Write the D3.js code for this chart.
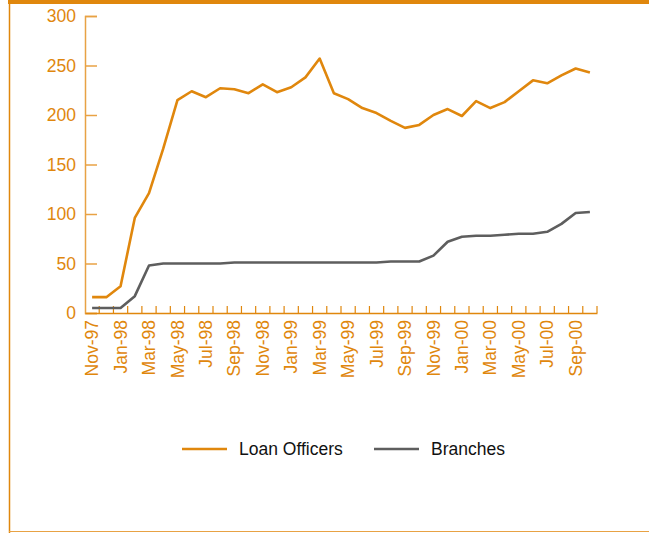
<!DOCTYPE html>
<html>
<head>
<meta charset="utf-8">
<script src="https://cdn.jsdelivr.net/npm/d3@7"></script>
<style>
	body { margin: 0; background: #fff; }
	text { font-family: "Liberation Sans", Arial, sans-serif; }
</style>
</head>
<body>
<div id="chart-area"></div>
<script>
// months shown on the x axis (every other one is labelled)
var months = ["Nov-97","Dec-97","Jan-98","Feb-98","Mar-98","Apr-98","May-98","Jun-98",
	"Jul-98","Aug-98","Sep-98","Oct-98","Nov-98","Dec-98","Jan-99","Feb-99","Mar-99",
	"Apr-99","May-99","Jun-99","Jul-99","Aug-99","Sep-99","Oct-99","Nov-99","Dec-99",
	"Jan-00","Feb-00","Mar-00","Apr-00","May-00","Jun-00","Jul-00","Aug-00","Sep-00","Oct-00"];

var loanOfficers = [16,16,27,96,121,166,215,224,218,227,226,222,231,223,228,238,257,
	222,216,207,202,194,187,190,200,206,199,214,207,213,224,235,232,240,247,243];

var branches = [5,5,5,17,48,50,50,50,50,50,51,51,51,51,51,51,51,51,51,51,51,52,52,52,
	58,72,77,78,78,79,80,80,82,90,101,102];

var yTicks = [0,50,100,150,200,250,300];

var seriesNames = ["Loan Officers","Branches"];

var orange = "#e0870d",
	axisOrange = "#e8a244",
	grey = "#5e5e5e";

var width = 649, height = 533;

var svg = d3.select("#chart-area")
	.append("svg")
		.attr("width", width)
		.attr("height", height);

// frame
svg.append("rect")
	.attr("x", 8).attr("y", 0)
	.attr("width", width - 8).attr("height", 4)
	.attr("fill", orange);
svg.append("line")
	.attr("x1", 9.5).attr("x2", 9.5)
	.attr("y1", 0).attr("y2", height)
	.attr("stroke", orange).attr("stroke-width", 1.5);
svg.append("line")
	.attr("x1", 9).attr("x2", width)
	.attr("y1", 531.5).attr("y2", 531.5)
	.attr("stroke", axisOrange).attr("stroke-width", 1.2);

//Scales
var x = d3.scaleBand()
	.domain(months)
	.range([85, 597])
	.padding(0);

var y = d3.scaleLinear()
	.domain([0, 300])
	.range([313, 16]);

function cx(d, i){ return x(months[i]) + x.bandwidth() / 2; }

//y axis
var yAxisCall = d3.axisLeft(y)
	.tickValues(yTicks)
	.tickSize(-12)
	.tickPadding(9);

var yAxis = svg.append("g")
	.attr("transform", "translate(85,0)")
	.call(yAxisCall);
yAxis.select(".domain").attr("stroke", axisOrange).attr("stroke-width", 1.5);
yAxis.selectAll(".tick line").attr("stroke", axisOrange).attr("stroke-width", 1.5);
yAxis.selectAll("text")
	.attr("fill", orange)
	.attr("font-size", "17.5px")
	.attr("font-family", null);

//x axis
var xAxisCall = d3.axisBottom(x)
	.tickValues(months.filter(function(d, i){ return i % 2 == 0; }))
	.tickSize(0)
	.tickSizeOuter(0);

var xAxis = svg.append("g")
	.attr("transform", "translate(0,313)")
	.call(xAxisCall);
xAxis.select(".domain").attr("stroke", orange).attr("stroke-width", 1.5);
xAxis.selectAll("text")
	.attr("fill", orange)
	.attr("font-size", "17.5px")
	.attr("font-family", null)
	.attr("y", 0)
	.attr("x", -7)
	.attr("dy", "0.35em")
	.attr("transform", "rotate(-90)")
	.style("text-anchor", "end");

// tick marks between months
xAxis.selectAll(".month-tick")
	.data(months)
	.enter()
	.append("line")
		.attr("class", "month-tick")
		.attr("x1", function(d){ return x(d) + x.bandwidth(); })
		.attr("x2", function(d){ return x(d) + x.bandwidth(); })
		.attr("y1", 0)
		.attr("y2", -7)
		.attr("stroke", orange)
		.attr("stroke-width", 1.2);

//lines
var line = d3.line()
	.x(cx)
	.y(function(d){ return y(d); });

svg.append("path")
	.datum(branches)
	.attr("fill", "none")
	.attr("stroke", grey)
	.attr("stroke-width", 2.6)
	.attr("stroke-linejoin", "round")
	.attr("d", line);

svg.append("path")
	.datum(loanOfficers)
	.attr("fill", "none")
	.attr("stroke", orange)
	.attr("stroke-width", 2.6)
	.attr("stroke-linejoin", "round")
	.attr("d", line);

//legend
var legendColors = [orange, grey];
var legendX = [182, 374];

seriesNames.forEach(function(name, i){
	var row = svg.append("g")
		.attr("transform", "translate(" + legendX[i] + ",449)");
	row.append("line")
		.attr("x1", 0).attr("x2", 45)
		.attr("stroke", legendColors[i])
		.attr("stroke-width", 2.5);
	row.append("text")
		.attr("x", 57)
		.attr("dy", "0.35em")
		.attr("font-size", "17.5px")
		.attr("fill", "#111")
		.text(name);
}); //forEach
</script>
</body>
</html>
